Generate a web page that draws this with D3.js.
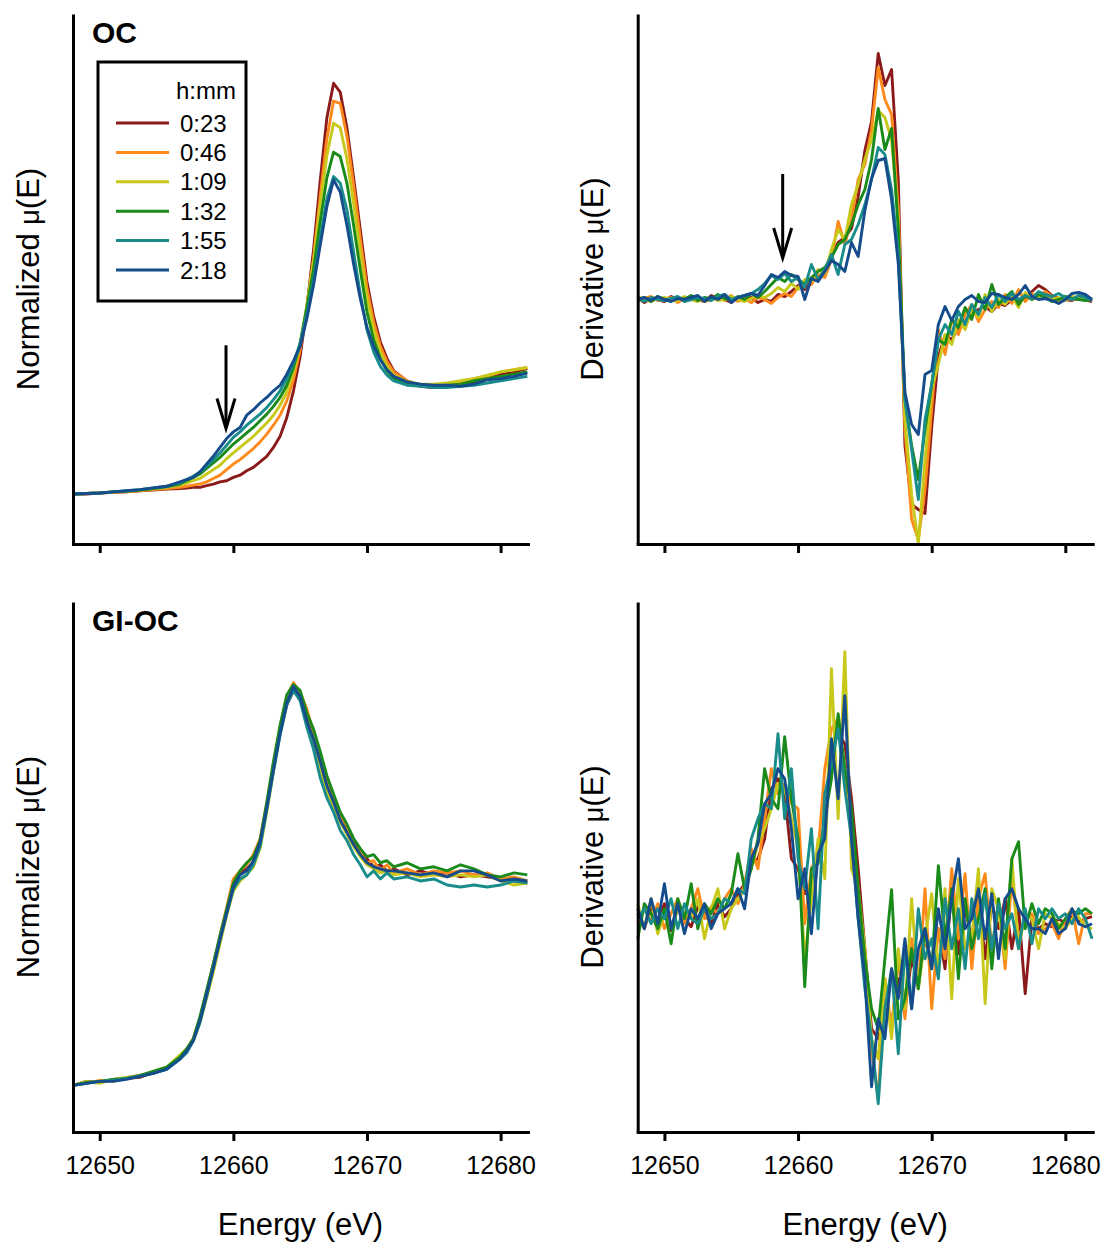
<!DOCTYPE html>
<html>
<head>
<meta charset="utf-8">
<script src="https://d3js.org/d3.v7.min.js"></script>
<style>
  body { margin: 0; background: #fff; }
  text { font-family: "Liberation Sans", Arial, sans-serif; fill: #000; }
</style>
</head>
<body>
<script>
// Series labels and colours (h:mm after start)
var seriesLabels = ["0:23", "0:46", "1:09", "1:32", "1:55", "2:18"];
var seriesColors = ["#8b1a1a", "#ff8a1c", "#c8c81a", "#1a8a1a", "#1a8c8c", "#154c8c"];
var energyTicks = [12650, 12660, 12670, 12680];

// Energy grid of the normalized spectra (eV)
var energyNorm = [12648, 12649, 12650, 12651, 12652, 12653, 12654, 12655, 12656,
  12656.5, 12657, 12657.5, 12658, 12658.5, 12659, 12659.5, 12660, 12660.5, 12661, 12661.5,
  12662, 12662.5, 12663, 12663.5, 12664, 12664.5, 12665, 12665.5, 12666, 12666.5,
  12667, 12667.5, 12668, 12668.5, 12669, 12669.5, 12670, 12670.5, 12671, 12671.5,
  12672, 12673, 12674, 12675, 12676, 12677, 12678, 12679, 12680, 12681, 12682];

// Energy grid of the derivative spectra (eV)
var energyDeriv = [12648, 12648.5, 12649, 12649.5, 12650, 12650.5, 12651, 12651.5, 12652, 12652.5,
  12653, 12653.5, 12654, 12654.5, 12655, 12655.5, 12656, 12656.5, 12657, 12657.5,
  12658, 12658.5, 12659, 12659.5, 12660, 12660.5, 12661, 12661.5, 12662, 12662.5,
  12663, 12663.5, 12664, 12664.5, 12665, 12665.5, 12666, 12666.5, 12667, 12667.5,
  12668, 12668.5, 12669, 12669.5, 12670, 12670.5, 12671, 12671.5, 12672, 12672.5,
  12673, 12673.5, 12674, 12674.5, 12675, 12675.5, 12676, 12676.5, 12677, 12677.5,
  12678, 12678.5, 12679, 12679.5, 12680, 12680.5, 12681, 12681.5, 12682];

// OC - normalized mu(E)
var ocNorm0023 = [0.00, 0.00, 0.01, 0.015, 0.02, 0.03, 0.035, 0.045, 0.05, 0.055, 0.06, 0.06, 0.075, 0.09, 0.11, 0.12, 0.15, 0.17, 0.21, 0.24,
  0.29, 0.34, 0.42, 0.52, 0.69, 0.93, 1.24, 1.68, 2.20, 2.82, 3.39, 3.70, 3.62, 3.30, 2.85, 2.38, 1.91, 1.60, 1.37, 1.22,
  1.11, 1.02, 0.97, 0.96, 0.97, 0.98, 1.01, 1.04, 1.08, 1.10, 1.13];
var ocNorm0046 = [0.00, 0.005, 0.01, 0.015, 0.02, 0.03, 0.04, 0.05, 0.06, 0.07, 0.08, 0.09, 0.11, 0.14, 0.17, 0.22, 0.27, 0.31, 0.36, 0.41,
  0.47, 0.54, 0.62, 0.71, 0.84, 1.03, 1.30, 1.68, 2.12, 2.68, 3.20, 3.54, 3.52, 3.22, 2.78, 2.30, 1.85, 1.55, 1.33, 1.19,
  1.10, 1.02, 0.98, 0.98, 0.99, 1.01, 1.04, 1.06, 1.10, 1.12, 1.14];
var ocNorm0109 = [0.00, 0.005, 0.01, 0.02, 0.025, 0.035, 0.045, 0.06, 0.08, 0.10, 0.12, 0.14, 0.18, 0.22, 0.26, 0.32, 0.37, 0.42, 0.47, 0.52,
  0.58, 0.64, 0.71, 0.80, 0.92, 1.10, 1.35, 1.70, 2.10, 2.60, 3.05, 3.34, 3.30, 3.02, 2.62, 2.18, 1.76, 1.48, 1.28, 1.15,
  1.07, 1.01, 0.99, 0.99, 1.00, 1.02, 1.04, 1.07, 1.10, 1.12, 1.14];
var ocNorm0132 = [0.00, 0.005, 0.01, 0.02, 0.025, 0.035, 0.05, 0.065, 0.09, 0.12, 0.15, 0.18, 0.23, 0.28, 0.33, 0.39, 0.45, 0.50, 0.55, 0.60,
  0.66, 0.72, 0.79, 0.87, 0.98, 1.14, 1.36, 1.68, 2.02, 2.45, 2.85, 3.08, 3.04, 2.80, 2.42, 2.02, 1.64, 1.39, 1.22, 1.11,
  1.04, 0.99, 0.98, 0.97, 0.98, 0.99, 1.02, 1.04, 1.06, 1.08, 1.10];
var ocNorm0155 = [0.00, 0.005, 0.01, 0.02, 0.03, 0.04, 0.055, 0.07, 0.10, 0.13, 0.16, 0.20, 0.25, 0.31, 0.37, 0.44, 0.51, 0.56, 0.62, 0.67,
  0.72, 0.78, 0.85, 0.93, 1.04, 1.18, 1.36, 1.62, 1.92, 2.30, 2.66, 2.86, 2.80, 2.56, 2.18, 1.80, 1.48, 1.28, 1.15, 1.07,
  1.02, 0.98, 0.97, 0.96, 0.96, 0.97, 0.98, 1.00, 1.02, 1.04, 1.06];
var ocNorm0218 = [0.00, 0.005, 0.01, 0.02, 0.03, 0.04, 0.055, 0.07, 0.11, 0.13, 0.15, 0.20, 0.27, 0.34, 0.42, 0.50, 0.56, 0.60, 0.71, 0.76,
  0.82, 0.87, 0.93, 0.98, 1.08, 1.20, 1.33, 1.58, 1.88, 2.24, 2.59, 2.83, 2.72, 2.42, 2.07, 1.76, 1.50, 1.33, 1.21, 1.12,
  1.06, 1.01, 0.99, 0.98, 0.98, 0.97, 0.99, 1.03, 1.04, 1.06, 1.09];

// OC - derivative mu(E)
var ocDeriv0023 = [0.02, -0.03, 0.01, 0.0, -0.02, 0.03, 0.0, -0.01, 0.02, 0.0,
  -0.02, 0.04, 0.01, 0.0, -0.03, 0.02, 0.0, 0.02, -0.03, 0.0,
  -0.02, 0.05, 0.03, 0.08, 0.14, 0.10, 0.18, 0.22, 0.28, 0.45,
  0.57, 0.62, 0.71, 1.03, 1.49, 1.78, 2.46, 2.14, 2.30, 1.20,
  -1.46, -2.05, -2.10, -2.14, -1.28, -0.57, -0.36, -0.40, -0.28, -0.22,
  -0.14, -0.10, -0.07, -0.12, -0.04, -0.06, 0.0, -0.02, 0.02, 0.08,
  0.14, 0.10, 0.04, 0.01, 0.0, -0.01, 0.02, 0.0, -0.02];
var ocDeriv0046 = [-0.02, 0.01, 0.03, -0.01, 0.0, 0.02, -0.03, 0.01, 0.0, 0.03,
  -0.02, 0.0, 0.02, -0.01, 0.04, -0.02, 0.01, -0.03, 0.02, 0.0,
  -0.04, 0.02, 0.06, 0.03, 0.12, 0.18, 0.15, 0.25, 0.22, 0.40,
  0.78, 0.55, 0.80, 1.20, 1.35, 1.70, 2.32, 2.00, 1.85, 0.90,
  -1.30, -2.20, -2.40, -1.90, -1.10, -0.30, -0.55, -0.20, -0.35, -0.15,
  -0.05, -0.22, -0.10, -0.02, -0.08, 0.05, -0.04, 0.10, -0.02, 0.06,
  0.02, 0.08, 0.03, -0.02, 0.02, 0.0, 0.01, 0.03, 0.0];
var ocDeriv0109 = [0.03, 0.0, -0.02, 0.01, 0.02, 0.0, -0.01, 0.03, 0.0, -0.02,
  0.01, 0.02, -0.01, 0.0, 0.03, 0.0, -0.02, 0.01, 0.04, 0.02,
  0.06, 0.12, 0.08, 0.16, 0.10, 0.20, 0.18, 0.30, 0.26, 0.50,
  0.70, 0.60, 0.95, 1.15, 1.40, 1.60, 1.89, 1.82, 1.60, 0.80,
  -1.20, -1.95, -2.44, -1.60, -0.90, -0.65, -0.35, -0.45, -0.20, -0.30,
  -0.10, -0.18, 0.05, -0.12, 0.0, -0.05, 0.04, -0.08, 0.07, 0.0,
  0.03, 0.05, 0.0, 0.02, -0.01, 0.03, 0.01, 0.0, 0.01];
var ocDeriv0132 = [0.0, 0.02, -0.02, 0.03, 0.0, -0.01, 0.02, 0.0, 0.04, -0.01,
  0.02, 0.0, 0.05, 0.01, -0.01, 0.03, 0.0, 0.06, 0.02, 0.08,
  0.15, 0.22, 0.18, 0.25, 0.20, 0.15, 0.22, 0.28, 0.32, 0.42,
  0.55, 0.60, 0.75, 0.95, 1.10, 1.40, 1.91, 1.50, 1.71, 0.70,
  -1.00, -1.46, -1.80, -1.30, -0.85, -0.40, -0.45, -0.20, -0.28, -0.08,
  -0.20, 0.05, -0.10, 0.15, -0.05, 0.02, 0.08, -0.05, 0.04, 0.0,
  0.05, 0.02, -0.02, 0.0, 0.03, 0.01, 0.0, -0.01, 0.0];
var ocDeriv0155 = [0.01, -0.02, 0.02, 0.0, -0.01, 0.01, 0.03, -0.02, 0.0, 0.02,
  0.01, -0.01, 0.03, 0.05, 0.0, 0.02, 0.04, 0.06, 0.10, 0.16,
  0.24, 0.20, 0.26, 0.18, 0.22, 0.12, 0.35, 0.20, 0.30, 0.45,
  0.25, 0.55, 0.60, 0.75, 0.95, 1.20, 1.52, 1.45, 1.10, 0.45,
  -1.00, -1.50, -2.00, -1.20, -0.85, -0.40, -0.25, -0.35, -0.12, -0.25,
  -0.05, -0.15, 0.02, -0.08, 0.05, -0.02, 0.06, 0.0, 0.04, 0.01,
  0.08, 0.05, 0.03, 0.06, 0.02, 0.0, 0.04, 0.02, -0.01];
var ocDeriv0218 = [0.0, 0.02, -0.01, 0.03, 0.0, -0.02, 0.01, 0.0, 0.02, 0.04,
  -0.02, 0.03, 0.0, 0.05, -0.03, 0.02, 0.04, 0.06, 0.04, 0.14,
  0.25, 0.22, 0.28, 0.24, 0.23, 0.0, 0.21, 0.18, 0.28, 0.39,
  0.35, 0.28, 0.57, 0.43, 0.89, 1.21, 1.39, 1.41, 1.00, 0.36,
  -0.93, -1.25, -1.35, -0.75, -0.71, -0.25, -0.07, -0.21, -0.07, 0.0,
  0.04, -0.02, -0.03, 0.06, 0.05, 0.02, 0.0, 0.05, 0.14, 0.03,
  0.0, 0.01, -0.01, -0.04, 0.0, 0.06, 0.07, 0.05, 0.0];

// GI-OC - normalized mu(E)
var giNorm0023 = [0.0, 0.02, 0.015, 0.03, 0.035, 0.04, 0.065, 0.085, 0.14, 0.17, 0.23, 0.33, 0.46, 0.60, 0.73, 0.86, 0.99, 1.05, 1.07, 1.10,
  1.18, 1.38, 1.58, 1.75, 1.88, 1.95, 1.93, 1.82, 1.74, 1.63, 1.50, 1.42, 1.34, 1.27, 1.20, 1.16, 1.12, 1.08, 1.09, 1.06,
  1.07, 1.04, 1.06, 1.04, 1.05, 1.03, 1.04, 1.03, 1.02, 1.01, 1.00];
var giNorm0046 = [0.0, 0.01, 0.025, 0.02, 0.04, 0.05, 0.06, 0.085, 0.14, 0.18, 0.23, 0.33, 0.46, 0.59, 0.74, 0.88, 1.02, 1.06, 1.09, 1.14,
  1.22, 1.39, 1.58, 1.77, 1.92, 1.99, 1.94, 1.86, 1.74, 1.62, 1.51, 1.41, 1.33, 1.28, 1.19, 1.15, 1.10, 1.11, 1.06, 1.09,
  1.05, 1.07, 1.04, 1.06, 1.05, 1.06, 1.04, 1.05, 1.02, 1.03, 1.01];
var giNorm0109 = [0.0, 0.02, 0.01, 0.03, 0.04, 0.045, 0.07, 0.09, 0.15, 0.18, 0.22, 0.31, 0.43, 0.56, 0.70, 0.84, 0.96, 1.01, 1.04, 1.08,
  1.17, 1.35, 1.55, 1.75, 1.90, 1.96, 1.91, 1.80, 1.70, 1.57, 1.45, 1.38, 1.30, 1.24, 1.18, 1.13, 1.09, 1.07, 1.05, 1.06,
  1.04, 1.05, 1.03, 1.04, 1.03, 1.04, 1.03, 1.04, 1.01, 0.99, 1.00];
var giNorm0132 = [0.0, 0.015, 0.02, 0.03, 0.035, 0.05, 0.07, 0.09, 0.14, 0.18, 0.23, 0.34, 0.47, 0.60, 0.74, 0.87, 1.00, 1.06, 1.10, 1.13,
  1.21, 1.40, 1.60, 1.78, 1.93, 1.98, 1.95, 1.84, 1.76, 1.65, 1.53, 1.44, 1.35, 1.29, 1.22, 1.17, 1.13, 1.14, 1.10, 1.11,
  1.08, 1.10, 1.07, 1.08, 1.06, 1.09, 1.07, 1.04, 1.03, 1.05, 1.04];
var giNorm0155 = [0.0, 0.01, 0.02, 0.025, 0.035, 0.045, 0.06, 0.08, 0.13, 0.16, 0.22, 0.31, 0.44, 0.58, 0.72, 0.85, 0.97, 1.02, 1.04, 1.09,
  1.18, 1.36, 1.55, 1.73, 1.88, 1.95, 1.90, 1.77, 1.66, 1.52, 1.42, 1.35, 1.26, 1.21, 1.14, 1.09, 1.03, 1.06, 1.02, 1.05,
  1.02, 1.03, 1.01, 1.02, 0.99, 0.98, 0.99, 0.98, 0.99, 1.01, 1.00];
var giNorm0218 = [0.0, 0.01, 0.02, 0.02, 0.03, 0.045, 0.06, 0.08, 0.13, 0.17, 0.22, 0.32, 0.45, 0.58, 0.72, 0.85, 0.98, 1.04, 1.06, 1.11,
  1.20, 1.37, 1.56, 1.74, 1.89, 1.97, 1.92, 1.80, 1.71, 1.60, 1.48, 1.40, 1.31, 1.25, 1.19, 1.14, 1.10, 1.08, 1.07, 1.06,
  1.06, 1.05, 1.04, 1.05, 1.03, 1.06, 1.06, 1.04, 1.01, 1.02, 1.01];

// GI-OC - derivative mu(E)
var giDeriv0023 = [0.05, -0.1, 0.12, -0.05, 0.15, -0.12, 0.1, 0.0, -0.08, 0.12,
  0.05, -0.05, 0.15, 0.02, 0.1, 0.25, 0.35, 0.55, 0.6, 0.8,
  1.3, 1.4, 1.25, 0.6, 0.5, 0.25, 0.35, 0.6, 0.85, 1.7,
  1.85, 1.75, 1.2, 0.5, -0.3, -1.1, -1.2, -0.9, -1.05, -0.6,
  -0.9, -0.4, -0.65, -0.2, -0.45, -0.1, -0.5, 0.3, -0.35, 0.1,
  -0.2, 0.25, -0.4, 0.15, -0.1, 0.2, -0.3, 0.1, -0.75, 0.0,
  -0.1, -0.05, -0.08, 0.0, -0.05, 0.02, -0.03, 0.0, 0.02];
var giDeriv0046 = [-0.05, 0.1, -0.02, 0.15, -0.1, 0.05, 0.2, -0.05, 0.1, 0.3,
  0.0, 0.12, 0.05, 0.2, 0.3, 0.15, 0.35, 0.7, 0.5, 1.0,
  1.5, 1.25, 1.35, 1.15, 1.1, -0.05, 0.5, 0.65, 1.5, 1.9,
  2.0, 1.4, 0.9, 0.3, -0.6, -1.3, -1.8, -0.6, -1.1, -0.4,
  -1.0, -0.2, -0.7, 0.3, -0.9, -0.1, -0.4, 0.5, -0.2, 0.45,
  -0.5, 0.2, 0.45, -0.3, 0.15, -0.5, 0.4, -0.2, 0.0, 0.05,
  -0.15, -0.1, -0.05, -0.2, 0.0, 0.1, -0.25, 0.05, 0.05];
var giDeriv0109 = [0.15, -0.1, 0.2, -0.15, 0.05, -0.1, 0.1, 0.05, 0.0, 0.2,
  -0.2, 0.1, 0.3, -0.1, 0.1, 0.2, 0.3, 0.5, 0.75, 0.9,
  1.1, 1.35, 1.3, 1.0, 0.7, -0.4, 0.2, 0.8, 0.4, 2.5,
  1.0, 2.67, 0.5, 0.3, -0.3, -1.2, -1.4, -0.6, -1.2, -0.3,
  -0.9, 0.2, -0.7, -0.2, 0.25, -0.55, 0.3, -0.8, 0.4, -0.3,
  -0.2, 0.5, -0.85, 0.3, 0.1, -0.4, 0.6, -0.3, 0.05, 0.0,
  -0.3, 0.05, 0.0, -0.05, -0.1, 0.0, 0.02, -0.08, -0.1];
var giDeriv0132 = [-0.2, 0.15, 0.05, -0.1, 0.1, -0.25, 0.2, 0.0, 0.35, -0.1,
  0.15, 0.05, 0.2, 0.1, 0.25, 0.65, 0.3, 0.5, 0.8, 1.5,
  1.2, 1.1, 1.82, 1.2, 0.8, -0.68, 0.5, 0.55, 1.0, 1.4,
  2.05, 1.5, 1.1, 0.3, -0.4, -0.9, -1.1, -0.4, 0.29, -1.0,
  -0.8, -0.3, -0.7, -0.1, -0.5, 0.53, -0.2, 0.3, -0.6, 0.2,
  -0.3, 0.0, 0.3, -0.5, 0.2, -0.3, 0.6, 0.77, -0.1, 0.15,
  -0.05, 0.1, 0.05, -0.1, 0.0, 0.08, 0.05, 0.1, 0.05];
var giDeriv0155 = [0.0, 0.1, -0.05, 0.1, 0.0, 0.2, -0.1, 0.15, 0.0, -0.05,
  0.1, 0.0, 0.05, 0.2, 0.15, 0.3, 0.25, 0.8, 1.0, 1.15,
  1.1, 1.85, 1.0, 1.5, 0.6, 0.3, 0.9, -0.1, 1.25, 1.55,
  1.9, 1.3, 0.8, 0.0, -0.7, -1.2, -1.85, -0.9, -0.5, -1.35,
  -0.3, -0.9, 0.1, -0.4, -0.2, -0.6, 0.2, -0.3, 0.1, -0.5,
  0.2, -0.2, 0.25, -0.3, 0.15, -0.1, 0.05, -0.3, 0.1, -0.25,
  0.1, 0.0, 0.1, 0.0, 0.05, -0.05, 0.1, 0.0, -0.2];
var giDeriv0218 = [0.1, -0.1, 0.2, -0.05, 0.35, -0.1, 0.15, -0.15, 0.1, 0.0,
  0.15, -0.1, 0.05, 0.1, 0.15, 0.3, 0.1, 0.6, 0.75, 1.15,
  1.25, 1.5, 1.4, 0.9, 0.2, 0.5, -0.15, 0.65, 0.8, 1.8,
  1.2, 2.23, 0.8, 0.0, -0.6, -1.68, -1.0, -1.2, -0.5, -0.8,
  -0.2, -0.9, -0.3, -0.1, -0.5, 0.1, -0.3, 0.2, 0.6, -0.1,
  0.0, 0.3, -0.2, 0.25, -0.4, 0.2, 0.3, 0.1, 0.0, -0.1,
  -0.1, -0.15, 0.0, -0.15, -0.1, 0.1, -0.05, -0.08, -0.05];

// Arrows marking the pre-edge feature: [energy, from, to]
var ocNormArrow = [12659.45, 1.34, 0.59];
var ocDerivArrow = [12658.85, 1.255, 0.415];

// Define SVG area dimensions
var svgWidth = 1107;
var svgHeight = 1245;

var svg = d3.select("body")
  .append("svg")
  .attr("width", svgWidth)
  .attr("height", svgHeight);

var panels = [
  { left: 73, right: 528, top: 14, bottom: 544, energy: energyNorm,
    series: [ocNorm0023, ocNorm0046, ocNorm0109, ocNorm0132, ocNorm0155, ocNorm0218],
    yDomain: [-0.45, 4.324], yTitle: "Normalized ", titleX: 28, label: "OC", arrow: ocNormArrow, tickLabels: false },
  { left: 637.7, right: 1092.7, top: 14, bottom: 544, energy: energyDeriv,
    series: [ocDeriv0023, ocDeriv0046, ocDeriv0109, ocDeriv0132, ocDeriv0155, ocDeriv0218],
    yDomain: [-2.445, 2.855], yTitle: "Derivative ", titleX: 592, label: null, arrow: ocDerivArrow, tickLabels: false },
  { left: 73, right: 528, top: 602, bottom: 1132, energy: energyNorm,
    series: [giNorm0023, giNorm0046, giNorm0109, giNorm0132, giNorm0155, giNorm0218],
    yDomain: [-0.23, 2.388], yTitle: "Normalized ", titleX: 28, label: "GI-OC", arrow: null, tickLabels: true },
  { left: 637.7, right: 1092.7, top: 602, bottom: 1132, energy: energyDeriv,
    series: [giDeriv0023, giDeriv0046, giDeriv0109, giDeriv0132, giDeriv0155, giDeriv0218],
    yDomain: [-2.133, 3.167], yTitle: "Derivative ", titleX: 592, label: null, arrow: null, tickLabels: true }
];

panels.forEach(function(p) {
  var xScale = d3.scaleLinear().domain([12648, 12682.05]).range([p.left, p.right]);
  var yScale = d3.scaleLinear().domain(p.yDomain).range([p.bottom, p.top]);

  var g = svg.append("g");

  // spectra, first scan drawn first so the last one ends on top
  var line = d3.line()
    .x(function(d) { return xScale(d[0]); })
    .y(function(d) { return yScale(d[1]); });

  p.series.forEach(function(values, i) {
    var pts = values.map(function(v, j) { return [p.energy[j], v]; });
    g.append("path")
      .datum(pts)
      .attr("fill", "none")
      .attr("stroke", seriesColors[i])
      .attr("stroke-width", 2.9)
      .attr("stroke-linejoin", "round")
      .attr("d", line);
  });

  // x axis
  var bottomAxis = d3.axisBottom(xScale)
    .tickValues(energyTicks)
    .tickSize(9)
    .tickSizeOuter(0)
    .tickPadding(15)
    .tickFormat(p.tickLabels ? d3.format("d") : "");

  var xAxis = g.append("g")
    .attr("transform", `translate(0, ${p.bottom})`)
    .call(bottomAxis);
  xAxis.select(".domain").attr("stroke-width", 3).attr("stroke-linecap", "square");
  xAxis.selectAll(".tick line").attr("stroke-width", 3);
  xAxis.selectAll("text")
    .attr("font-family", "Liberation Sans, Arial, sans-serif")
    .attr("font-size", 25);

  // y axis has no ticks
  var leftAxis = d3.axisLeft(yScale).tickValues([]).tickSizeOuter(0);
  var yAxis = g.append("g")
    .attr("transform", `translate(${p.left}, 0)`)
    .call(leftAxis);
  yAxis.select(".domain").attr("stroke-width", 3);

  // y axis title
  var yTitle = g.append("text")
    .attr("transform", `translate(${p.titleX}, ${(p.top + p.bottom) / 2}) rotate(-90)`)
    .attr("text-anchor", "middle")
    .attr("dy", "0.35em")
    .attr("font-size", 31);
  yTitle.append("tspan").text(p.yTitle);
  yTitle.append("tspan").attr("font-size", 27).text("μ");
  yTitle.append("tspan").text("(E)");

  // x axis title (bottom row only)
  if (p.tickLabels) {
    g.append("text")
      .attr("x", (p.left + p.right) / 2)
      .attr("y", p.bottom + 103)
      .attr("text-anchor", "middle")
      .attr("font-size", 31)
      .text("Energy (eV)");
  }

  // sample label
  if (p.label) {
    g.append("text")
      .attr("x", p.left + 19)
      .attr("y", p.top + 29)
      .attr("font-size", 30)
      .attr("font-weight", "bold")
      .text(p.label);
  }

  // arrow pointing at the pre-edge
  if (p.arrow) {
    var ax = xScale(p.arrow[0]);
    var ay0 = yScale(p.arrow[1]);
    var ay1 = yScale(p.arrow[2]);
    g.append("line")
      .attr("x1", ax).attr("x2", ax)
      .attr("y1", ay0).attr("y2", ay1 - 2)
      .attr("stroke", "#000")
      .attr("stroke-width", 3);
    g.append("path")
      .attr("d", `M${ax - 9},${ay1 - 30} L${ax},${ay1} L${ax + 9},${ay1 - 30}`)
      .attr("fill", "none")
      .attr("stroke", "#000")
      .attr("stroke-width", 3);
  }
});

// legend in the OC panel
var legend = svg.append("g");
legend.append("rect")
  .attr("x", 98)
  .attr("y", 62)
  .attr("width", 148)
  .attr("height", 239)
  .attr("fill", "#fff")
  .attr("stroke", "#000")
  .attr("stroke-width", 3);
legend.append("text")
  .attr("x", 236)
  .attr("y", 99)
  .attr("text-anchor", "end")
  .attr("font-size", 24)
  .text("h:mm");

var items = legend.selectAll(".item")
  .data(seriesLabels)
  .enter()
  .append("g")
  .attr("transform", function(d, i) { return `translate(0, ${123 + i * 29.4})`; });
items.append("line")
  .attr("x1", 116).attr("x2", 169)
  .attr("y1", 0).attr("y2", 0)
  .attr("stroke", function(d, i) { return seriesColors[i]; })
  .attr("stroke-width", 3);
items.append("text")
  .attr("x", 180)
  .attr("y", 0)
  .attr("dy", "0.36em")
  .attr("font-size", 24)
  .text(function(d) { return d; });
</script>
</body>
</html>
